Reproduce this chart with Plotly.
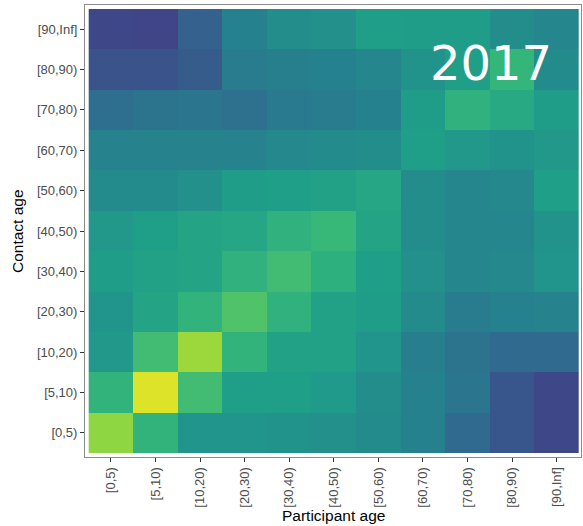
import plotly.graph_objects as go

age_groups = ["[0,5)", "[5,10)", "[10,20)", "[20,30)", "[30,40)", "[40,50)",
              "[50,60)", "[60,70)", "[70,80)", "[80,90)", "[90,Inf]"]

# rows: contact age (bottom to top), columns: participant age (left to right)
row_0_5    = [0.83, 0.65, 0.52, 0.52, 0.51, 0.50, 0.48, 0.44, 0.34, 0.27, 0.22]
row_5_10   = [0.65, 0.95, 0.69, 0.56, 0.56, 0.54, 0.49, 0.44, 0.39, 0.27, 0.22]
row_10_20  = [0.53, 0.69, 0.85, 0.65, 0.57, 0.57, 0.52, 0.43, 0.38, 0.34, 0.34]
row_20_30  = [0.52, 0.58, 0.65, 0.72, 0.64, 0.57, 0.55, 0.48, 0.42, 0.44, 0.45]
row_30_40  = [0.55, 0.57, 0.58, 0.64, 0.69, 0.63, 0.56, 0.50, 0.46, 0.47, 0.52]
row_40_50  = [0.53, 0.56, 0.58, 0.59, 0.64, 0.67, 0.58, 0.49, 0.46, 0.46, 0.51]
row_50_60  = [0.48, 0.48, 0.50, 0.55, 0.56, 0.57, 0.59, 0.49, 0.46, 0.47, 0.56]
row_60_70  = [0.45, 0.45, 0.45, 0.45, 0.47, 0.48, 0.49, 0.56, 0.53, 0.51, 0.53]
row_70_80  = [0.36, 0.38, 0.39, 0.37, 0.41, 0.42, 0.44, 0.55, 0.64, 0.60, 0.55]
row_80_90  = [0.26, 0.26, 0.29, 0.42, 0.43, 0.44, 0.46, 0.51, 0.56, 0.66, 0.48]
row_90_inf = [0.22, 0.21, 0.31, 0.44, 0.49, 0.50, 0.56, 0.55, 0.55, 0.49, 0.46]

z = [row_0_5, row_5_10, row_10_20, row_20_30, row_30_40, row_40_50,
     row_50_60, row_60_70, row_70_80, row_80_90, row_90_inf]

year_label = "2017"

W, H = 583, 526
L, R, T, B = 85, 2, 5, 69

fig = go.Figure(go.Heatmap(
    x=age_groups, y=age_groups, z=z,
    colorscale="Viridis", zmin=0, zmax=1,
    showscale=False, xgap=0, ygap=0, hoverinfo="skip",
))

axis_common = dict(
    showgrid=False, zeroline=False, automargin=False,
    showline=True, linecolor="#8C8C8C", linewidth=1, mirror=True,
    ticks="outside", ticklen=4, tickcolor="#333333", tickwidth=1,
    tickfont=dict(family="Liberation Sans, Arial, sans-serif", size=13, color="#4D4D4D"),
)

fig.update_layout(
    width=W, height=H,
    margin=dict(l=L, r=R, t=T, b=B, pad=0),
    paper_bgcolor="white", plot_bgcolor="white",
    xaxis=dict(**axis_common, type="category", range=[-0.583, 10.545], tickangle=-90),
    yaxis=dict(**axis_common, type="category", range=[-0.599, 10.599]),
    annotations=[
        dict(text=year_label, xref="paper", yref="paper", x=0.819, y=0.872,
             xanchor="center", yanchor="middle", showarrow=False,
             font=dict(family="DejaVu Sans", size=48, color="white")),
        dict(text="Participant age", xref="paper", yref="paper", x=0.5, y=-0.1305,
             xanchor="center", yanchor="middle", showarrow=False,
             font=dict(family="Liberation Sans, Arial, sans-serif", size=15.5, color="black")),
        dict(text="Contact age", xref="paper", yref="paper", x=-0.137, y=0.5,
             xanchor="center", yanchor="middle", showarrow=False, textangle=-90,
             font=dict(family="Liberation Sans, Arial, sans-serif", size=15.5, color="black")),
    ],
)

fig.write_html("out.html", config={"displayModeBar": False},
               post_script="document.body.style.margin='0px';document.body.style.overflow='hidden';")
